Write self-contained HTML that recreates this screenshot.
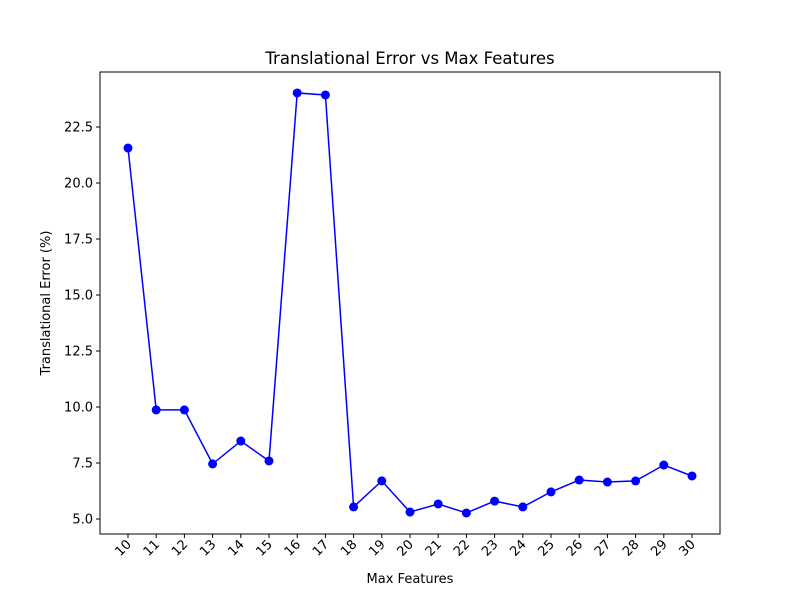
<!DOCTYPE html>
<html><head><meta charset="utf-8"><style>
body{margin:0;background:#fff;}
svg{display:block;font-family:"DejaVu Sans","Liberation Sans",sans-serif;}
</style></head><body>
<svg id="chart" width="800" height="600">
<rect x="0" y="0" width="800" height="600" fill="#fff"/>
<text x="410" y="64" font-size="16.5" text-anchor="middle">Translational Error vs Max Features</text>
<text x="410" y="583" font-size="13" text-anchor="middle">Max Features</text>
<text transform="translate(50,303) rotate(-90)" font-size="13" text-anchor="middle">Translational Error (%)</text>
<g id="ticks"></g>
<g id="series"></g>
<rect x="100" y="72" width="620" height="462" fill="none" stroke="#000" stroke-width="1"/>
</svg>
<script>
const categories=[10,11,12,13,14,15,16,17,18,19,20,21,22,23,24,25,26,27,28,29,30];
const errorValues=[21.56,9.87,9.87,7.46,8.48,7.59,24.02,23.93,5.54,6.70,5.31,5.67,5.27,5.80,5.54,6.21,6.74,6.65,6.70,7.41,6.92];
const yTickValues=[5.0,7.5,10.0,12.5,15.0,17.5,20.0,22.5];
const yTickLabels=["5.0","7.5","10.0","12.5","15.0","17.5","20.0","22.5"];
const NS="http://www.w3.org/2000/svg";
function xScale(c){return 128+(c-10)*(692-128)/20;}
function yScale(v){return 519-(v-5)*(519-127)/17.5;}
function mk(tag,attrs,parent){const e=document.createElementNS(NS,tag);for(const k in attrs)e.setAttribute(k,attrs[k]);parent.appendChild(e);return e;}
const ticks=document.getElementById('ticks');
yTickValues.forEach((v,i)=>{
  const y=yScale(v);
  const l=mk('line',{x1:96,x2:100,y1:y,y2:y,stroke:'#000'},ticks);
  
  
  const t=mk('text',{x:93,y:y+4.5,'font-size':13,'text-anchor':'end'},ticks);
  t.textContent=yTickLabels[i];
  
  
});
categories.forEach(c=>{
  const x=xScale(c);
  const l=mk('line',{x1:x,x2:x,y1:534,y2:538,stroke:'#000'},ticks);
  
  
  const t=mk('text',{transform:`translate(${x+4},${545}) rotate(-45)`,'font-size':13,'text-anchor':'end'},ticks);
  t.textContent=String(c);
  
  
});
const series=document.getElementById('series');
const pts=categories.map((c,i)=>xScale(c)+','+yScale(errorValues[i])).join(' ');
const pl=mk('polyline',{points:pts,fill:'none',stroke:'#0000ff','stroke-width':1.5},series);


categories.forEach((c,i)=>{
  const p=mk('circle',{cx:xScale(c),cy:yScale(errorValues[i]),r:4.5,fill:'#0000ff'},series);
  
  
});
</script>
</body></html>
